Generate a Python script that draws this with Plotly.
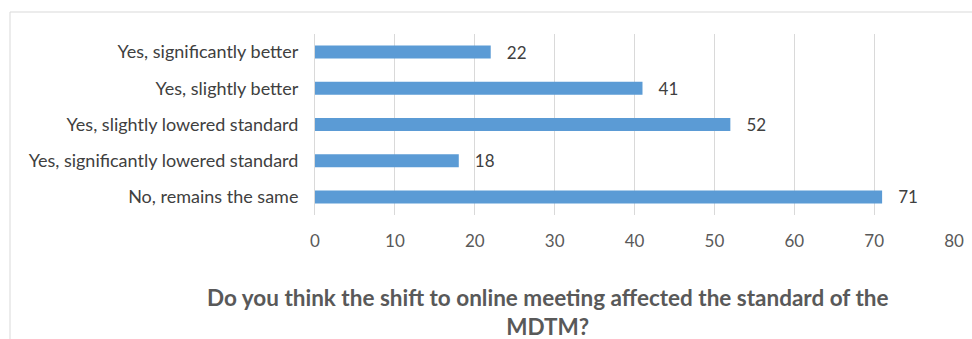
import plotly.graph_objects as go

categories = ["No, remains the same", "Yes, significantly lowered standard",
              "Yes, slightly lowered standard", "Yes, slightly better",
              "Yes, significantly better"]
values = [71, 18, 52, 41, 22]
x_ticks = [0, 10, 20, 30, 40, 50, 60, 70, 80]
title_text = "Do you think the shift to online meeting affected the standard of the<br>MDTM?"

W, H = 972, 339
L, R, T, B = 315, 18, 34, 124
pw = W - L - R
ph = H - T - B

fig = go.Figure(go.Bar(
    y=categories, x=values, orientation="h",
    marker=dict(color="#5B9BD5", line=dict(width=0)),
    width=0.36,
    texttemplate="   %{x}", textposition="outside",
    textfont=dict(size=17, color="#404040", family="Lato"),
    constraintext="none",
    cliponaxis=False,
))

fig.update_layout(
    width=W, height=H,
    margin=dict(l=L, r=R, t=T, b=B, autoexpand=False),
    paper_bgcolor="white", plot_bgcolor="white",
    showlegend=False,
    font=dict(family="Lato", color="#404040"),
    xaxis=dict(range=[0, 80], tickvals=x_ticks, showgrid=True,
               gridcolor="#D9D9D9", gridwidth=1, zeroline=False,
               tickfont=dict(size=17, color="#595959"),
               ticklabelstandoff=14, fixedrange=True, automargin=False),
    yaxis=dict(categoryorder="array", categoryarray=categories,
               showline=True, linecolor="#D9D9D9", linewidth=1,
               tickfont=dict(size=18, color="#404040"),
               ticklabelstandoff=12, range=[-0.5, 4.5], automargin=False),
    annotations=[dict(
        text=title_text, xref="paper", yref="paper",
        x=(548 - L) / pw, y=(H - B - 282) / ph, xanchor="center", yanchor="top",
        showarrow=False, align="center",
        font=dict(size=22.5, color="#595959", family="Lato", weight="bold"),
    )],
    shapes=[dict(type="rect", xref="paper", yref="paper",
                 x0=(10 - L) / pw, x1=(980 - L) / pw,
                 y0=(H - B - 345) / ph, y1=(H - B - 12) / ph,
                 line=dict(color="#D9D9D9", width=1), layer="below")],
)

fig.write_html("out.html", config={"displayModeBar": False},
               post_script="document.body.style.margin='0';document.body.style.overflow='hidden';")
